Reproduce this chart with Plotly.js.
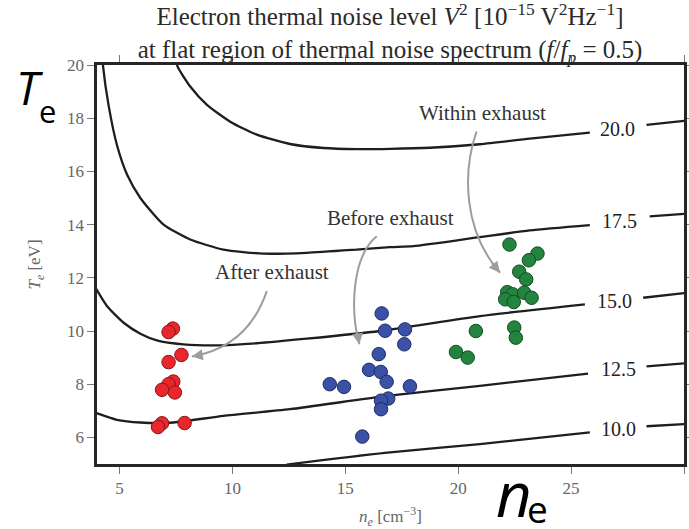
<!DOCTYPE html>
<html>
<head>
<meta charset="utf-8">
<script src="https://cdn.plot.ly/plotly-3.0.1.min.js"></script>
<style>
  html, body { margin: 0; padding: 0; background: #fff; }
  #plot { width: 689px; height: 529px; }
</style>
</head>
<body>
<div id="plot"></div>
<script>
// Measured plasma samples: electron density n_e [cm^-3] and temperature T_e [eV]
const afterNe  = [7.36, 7.17, 7.74, 7.17, 7.38, 7.17, 6.88, 7.45, 6.88, 6.70, 7.88];
const afterTe  = [10.09, 9.96, 9.10, 8.83, 8.10, 8.00, 7.79, 7.69, 6.53, 6.39, 6.54];

const beforeNe = [16.61, 16.76, 17.64, 17.61, 16.48, 16.05, 16.57, 16.83, 14.31, 14.94, 17.86, 16.90, 16.58, 16.58, 15.75];
const beforeTe = [10.66, 10.01, 10.06, 9.50, 9.13, 8.54, 8.46, 8.09, 8.00, 7.90, 7.92, 7.46, 7.38, 7.06, 6.03];

const withinNe = [22.27, 23.51, 23.13, 22.70, 23.01, 22.17, 22.41, 22.08, 22.46, 22.92, 23.25, 20.78, 22.48, 22.55, 19.90, 20.42];
const withinTe = [13.25, 12.91, 12.66, 12.23, 11.94, 11.46, 11.38, 11.19, 11.09, 11.44, 11.25, 10.00, 10.13, 9.75, 9.21, 9.00];

// Iso-level curves of the thermal noise level V^2 (two pieces each, split at the inline label)
const lv20Ne_a = [7.50, 7.57, 8.13, 8.87, 9.90, 11.08, 12.55, 14.03, 15.50, 16.98, 18.75, 20.96, 23.17, 25.83];
const lv20Te_a = [20.2, 19.94, 19.19, 18.50, 17.87, 17.38, 17.03, 16.88, 16.84, 16.85, 16.89, 17.02, 17.23, 17.46];
const lv20Ne_b = [28.34, 30.1];
const lv20Te_b = [17.75, 17.91];

const lv175Ne_a = [4.25, 4.27, 4.51, 4.88, 5.33, 5.92, 6.95, 8.13, 9.60, 11.37, 13.29, 15.50, 16.98, 18.01, 20.96, 23.17, 25.83];
const lv175Te_a = [20.2, 19.94, 18.50, 17.00, 15.88, 15.00, 14.00, 13.44, 13.06, 12.91, 12.94, 13.06, 13.15, 13.19, 13.53, 13.78, 13.98];
const lv175Ne_b = [28.48, 30.1];
const lv175Te_b = [14.31, 14.41];

const lv15Ne_a = [3.95, 4.44, 5.18, 5.92, 6.65, 7.83, 9.31, 11.08, 13.29, 16.53, 20.96, 25.61];
const lv15Te_a = [11.60, 10.94, 10.31, 9.90, 9.65, 9.50, 9.46, 9.54, 9.71, 10.00, 10.56, 11.00];
const lv15Ne_b = [28.19, 30.1];
const lv15Te_b = [11.25, 11.43];

const lv125Ne_a = [3.95, 4.88, 5.92, 7.39, 9.60, 12.55, 16.75, 20.96, 25.75];
const lv125Te_a = [6.92, 6.66, 6.56, 6.56, 6.81, 7.06, 7.55, 7.94, 8.40];
const lv125Ne_b = [28.34, 30.1];
const lv125Te_b = [8.67, 8.79];

const lv10Ne_a = [12.40, 16.75, 20.96, 25.83];
const lv10Te_a = [4.98, 5.42, 5.75, 6.19];
const lv10Ne_b = [28.34, 30.1];
const lv10Te_b = [6.42, 6.50];

// Inline level labels
const levelText = ['20.0', '17.5', '15.0', '12.5', '10.0'];
const levelNe   = [27.05, 27.15, 26.90, 27.10, 27.10];
const levelTe   = [17.60, 14.12, 11.13, 8.56, 6.31];

// Group captions and their pointer arrows
const groupText  = ['After exhaust', 'Before exhaust', 'Within exhaust'];
const groupNe    = [11.73, 16.98, 21.07];
const groupTe    = [12.20, 14.25, 18.21];
const arrowStart = [[11.52, 11.50], [16.39, 13.56], [20.81, 17.50]];
const arrowCtl1  = [[11.00, 10.20], [15.30, 12.80], [20.20, 16.00]];
const arrowCtl2  = [[10.00, 9.30],  [15.20, 10.80], [20.20, 13.80]];
const arrowTip   = [[8.20, 9.04],   [15.62, 9.50],  [21.85, 12.19]];
const arrowTail  = [[8.70, 9.11],   [15.55, 9.85],  [21.45, 12.60]];

const serif = 'Liberation Serif, DejaVu Serif, serif';
const lineStyle = {color: '#1e1e1e', width: 2.3, shape: 'spline', smoothing: 0.6};

function level(x, y) {
  return {x: x, y: y, type: 'scatter', mode: 'lines', line: lineStyle,
          hoverinfo: 'skip', showlegend: false};
}
function group(x, y, fill, edge) {
  return {x: x, y: y, type: 'scatter', mode: 'markers', showlegend: false,
          marker: {size: 13.5, color: fill, line: {color: edge, width: 1}}};
}

const traces = [
  level(lv20Ne_a, lv20Te_a), level(lv20Ne_b, lv20Te_b),
  level(lv175Ne_a, lv175Te_a), level(lv175Ne_b, lv175Te_b),
  level(lv15Ne_a, lv15Te_a), level(lv15Ne_b, lv15Te_b),
  level(lv125Ne_a, lv125Te_a), level(lv125Ne_b, lv125Te_b),
  level(lv10Ne_a, lv10Te_a), level(lv10Ne_b, lv10Te_b),
  group(afterNe, afterTe, '#e8262b', '#8a1518'),
  group(beforeNe, beforeTe, '#3a51a6', '#1f2d66'),
  group(withinNe, withinTe, '#23843f', '#134d23')
];

const shapes = arrowStart.map((s, i) => ({
  type: 'path', xref: 'x', yref: 'y', layer: 'above',
  path: 'M ' + s[0] + ',' + s[1] +
        ' C ' + arrowCtl1[i][0] + ',' + arrowCtl1[i][1] +
        ' ' + arrowCtl2[i][0] + ',' + arrowCtl2[i][1] +
        ' ' + arrowTip[i][0] + ',' + arrowTip[i][1],
  line: {color: '#9d9d9d', width: 2}
}));

const annotations = [];
levelText.forEach((t, i) => annotations.push({
  x: levelNe[i], y: levelTe[i], xref: 'x', yref: 'y', text: t, showarrow: false,
  xanchor: 'center', yanchor: 'middle',
  font: {family: serif, size: 20, color: '#222'}
}));
groupText.forEach((t, i) => annotations.push({
  x: groupNe[i], y: groupTe[i], xref: 'x', yref: 'y', text: t, showarrow: false,
  xanchor: 'center', yanchor: 'middle',
  font: {family: serif, size: 21, color: '#333'}
}));
arrowTip.forEach((p, i) => annotations.push({
  x: p[0], y: p[1], xref: 'x', yref: 'y', axref: 'x', ayref: 'y',
  ax: arrowTail[i][0], ay: arrowTail[i][1], text: '', showarrow: true,
  arrowhead: 2, arrowsize: 1.1, arrowwidth: 2, arrowcolor: '#9d9d9d', standoff: 0
}));

// Large overlay symbols for the axes
const big = 'Open Sans, Noto Sans, sans-serif';
function overlay(x, y, text, size) {
  return {xref: 'paper', yref: 'paper', x: x, y: y, text: text, showarrow: false,
          xanchor: 'center', yanchor: 'middle', font: {family: big, size: size, color: '#000'}};
}
annotations.push(
  overlay(-0.114, 0.946, '<i>T</i>', 46),
  overlay(-0.085, 0.884, 'e', 31),
  overlay(0.710, -0.072, '<i>n</i>', 62),
  overlay(0.750, -0.112, 'e', 37)
);

const axisCommon = {
  showgrid: false, zeroline: false, showline: true, linecolor: '#262626', linewidth: 2.6,
  mirror: 'allticks', ticks: 'outside', ticklen: 7, tickcolor: '#777', tickwidth: 1,
  tickfont: {family: serif, size: 17, color: '#666'}
};

const layout = {
  width: 689, height: 529,
  margin: {l: 97, r: 5, t: 65, b: 65},
  paper_bgcolor: '#fff', plot_bgcolor: '#fff',
  title: {
    text: 'Electron thermal noise level <i>V</i><sup>2</sup> [10<sup>−15</sup> V<sup>2</sup>Hz<sup>−1</sup>]<br>' +
          'at flat region of thermal noise spectrum (<i>f</i>/<i>f<sub>p</sub></i> = 0.5)',
    x: 0.566, xanchor: 'center', xref: 'container',
    y: 0.952, yanchor: 'middle', yref: 'container',
    font: {family: serif, size: 25, color: '#2a2a2a'}
  },
  xaxis: Object.assign({}, axisCommon, {
    range: [4, 30], tickvals: [5, 10, 15, 20, 25, 30],
    title: {text: '<i>n<sub>e</sub></i> [cm<sup>−3</sup>]', standoff: 16,
            font: {family: serif, size: 17, color: '#666'}}
  }),
  yaxis: Object.assign({}, axisCommon, {
    range: [5, 20], tickvals: [6, 8, 10, 12, 14, 16, 18, 20],
    title: {text: '<i>T<sub>e</sub></i> [eV]', standoff: 22,
            font: {family: serif, size: 17, color: '#666'}}
  }),
  shapes: shapes,
  annotations: annotations
};

Plotly.newPlot('plot', traces, layout, {displayModeBar: false, staticPlot: true});
</script>
</body>
</html>
